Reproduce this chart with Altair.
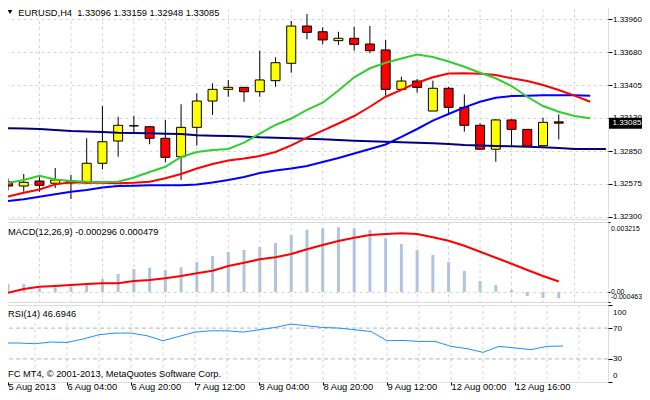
import altair as alt
import pandas as pd

FONT = "Liberation Sans"
FS = 9.3       # text size of the chart's own labels
FS_AX = 8.0    # right-hand price / RSI scale labels
FS_MACD = 6.9  # right-hand MACD scale labels (longer numbers)

# ---------------- data ----------------
opens = [1.32591, 1.32557, 1.32599, 1.32580, 1.32583, 1.32585, 1.32748, 1.32935, 1.33063, 1.33055,
         1.32958, 1.32803, 1.33050, 1.33271, 1.33369, 1.33386, 1.33349, 1.33442, 1.33588, 1.33901,
         1.33853, 1.33778, 1.33798, 1.33750, 1.33700, 1.33369, 1.33439, 1.33187, 1.33378, 1.33218,
         1.33067, 1.32866, 1.33112, 1.33033, 1.32896, 1.33096]
highs = [1.32620, 1.32658, 1.32635, 1.32708, 1.32650, 1.32958, 1.33229, 1.33139, 1.33148, 1.33061,
         1.33112, 1.33244, 1.33336, 1.33420, 1.33448, 1.33389, 1.33694, 1.33638, 1.33943, 1.34002,
         1.33890, 1.33853, 1.33895, 1.33901, 1.33784, 1.33475, 1.33456, 1.33442, 1.33391, 1.33327,
         1.33084, 1.33120, 1.33118, 1.33036, 1.33131, 1.33159]
lows = [1.32520, 1.32509, 1.32509, 1.32540, 1.32448, 1.32575, 1.32697, 1.32803, 1.32995, 1.32908,
        1.32756, 1.32608, 1.32896, 1.33154, 1.33307, 1.33265, 1.33307, 1.33391, 1.33509, 1.33789,
        1.33747, 1.33742, 1.33694, 1.33672, 1.33316, 1.33369, 1.33341, 1.33187, 1.33154, 1.33013,
        1.32866, 1.32761, 1.32896, 1.32893, 1.32896, 1.32948]
closes = [1.32557, 1.32588, 1.32563, 1.32608, 1.32600, 1.32748, 1.32929, 1.33067, 1.33062, 1.32958,
          1.32798, 1.33050, 1.33271, 1.33369, 1.33386, 1.33349, 1.33448, 1.33593, 1.33901, 1.33848,
          1.33784, 1.33798, 1.33747, 1.33694, 1.33369, 1.33439, 1.33386, 1.33378, 1.33218, 1.33067,
          1.32866, 1.33112, 1.33033, 1.32893, 1.33092, 1.33085]

ma_green = [1.32582, 1.32608, 1.32644, 1.32612, 1.32599, 1.32593, 1.32591, 1.32593, 1.32629, 1.32675,
            1.32719, 1.32801, 1.32843, 1.32860, 1.32868, 1.32921, 1.32998, 1.33070, 1.33124, 1.33196,
            1.33257, 1.33359, 1.33470, 1.33546, 1.33593, 1.33628, 1.33662, 1.33641, 1.33603, 1.33559,
            1.33509, 1.33462, 1.33397, 1.33307, 1.33229, 1.33181, 1.33145, 1.33126]
ma_red = [1.32469, 1.32501, 1.32528, 1.32571, 1.32588, 1.32585, 1.32585, 1.32580, 1.32585, 1.32593,
          1.32622, 1.32658, 1.32704, 1.32742, 1.32771, 1.32788, 1.32809, 1.32843, 1.32899, 1.32963,
          1.33022, 1.33082, 1.33145, 1.33223, 1.33307, 1.33364, 1.33425, 1.33470, 1.33502, 1.33504,
          1.33501, 1.33490, 1.33462, 1.33439, 1.33406, 1.33364, 1.33316, 1.33265]
ma_blue = [1.32431, 1.32446, 1.32467, 1.32488, 1.32509, 1.32524, 1.32545, 1.32557, 1.32560, 1.32563,
           1.32563, 1.32563, 1.32570, 1.32587, 1.32608, 1.32633, 1.32666, 1.32687, 1.32704, 1.32725,
           1.32759, 1.32792, 1.32830, 1.32868, 1.32906, 1.32969, 1.33036, 1.33107, 1.33162, 1.33218,
           1.33265, 1.33299, 1.33313, 1.33316, 1.33319, 1.33319, 1.33319, 1.33316]
ma_navy = [1.33042, 1.33040, 1.33036, 1.33028, 1.33019, 1.33015, 1.33011, 1.33005, 1.33002, 1.33000,
           1.32997, 1.32994, 1.32983, 1.32980, 1.32977, 1.32973, 1.32966, 1.32962, 1.32958, 1.32954,
           1.32950, 1.32944, 1.32938, 1.32933, 1.32929, 1.32924, 1.32921, 1.32916, 1.32910, 1.32902,
           1.32897, 1.32893, 1.32891, 1.32887, 1.32882, 1.32876, 1.32868, 1.32868, 1.32868]

macd_hist = [0.000363, 0.000363, 0.000166, 0.000212, 0.000239, 0.000317, 0.000593, 0.000823, 0.001053,
             0.001113, 0.001007, 0.001132, 0.001375, 0.001651, 0.001835, 0.001927, 0.002065, 0.002249,
             0.002617, 0.002861, 0.002926, 0.002972, 0.002926, 0.002847, 0.002466, 0.002203, 0.001927,
             0.001697, 0.001375, 0.000961, 0.000501, 0.000317, 0.000087, -0.000184, -0.000276, -0.000296]
macd_signal = [-0.000037, 0.000133, 0.000239, 0.000271, 0.000317, 0.000363, 0.000396, 0.000396, 0.000501,
               0.000547, 0.000626, 0.000731, 0.000856, 0.000975, 0.001191, 0.001343, 0.001500, 0.001592,
               0.001743, 0.001960, 0.002157, 0.002341, 0.002493, 0.002617, 0.002663, 0.002696, 0.002663,
               0.002512, 0.002355, 0.002125, 0.001849, 0.001573, 0.001297, 0.001007, 0.000731, 0.000479]

rsi_vals = [50.6, 50.6, 49.7, 51.9, 51.4, 55.8, 61.4, 63.5, 63.5, 60.1, 53.6, 59.2, 64.8, 66.5, 66.5,
            64.8, 67.8, 70.8, 75.2, 73.0, 70.8, 70.0, 67.8, 65.6, 53.6, 54.0, 52.7, 52.7, 46.3, 43.3,
            38.5, 46.3, 44.2, 42.0, 46.3, 46.7]

price_ticks = [1.32300, 1.32575, 1.32850, 1.33130, 1.33405, 1.33680, 1.33960]
macd_ticks = [0.003215, 0.0, -0.000463]
macd_tick_labels = ["0.003215", "0.00", "-0.000463"]
rsi_ticks = [0, 30, 70, 100]
rsi_levels = [30, 70]

time_label_bars = [0, 4, 8, 12, 16, 20, 24, 28, 32]
time_labels = ["5 Aug 2013", "6 Aug 04:00", "6 Aug 20:00", "7 Aug 12:00", "8 Aug 04:00",
               "8 Aug 20:00", "9 Aug 12:00", "12 Aug 00:00", "12 Aug 16:00"]
grid_bars = list(range(2, 37, 2))

title_txt = "EURUSD,H4\u00a0 1.33096 1.33159 1.32948 1.33085"
macd_txt = "MACD(12,26,9) -0.000296 0.000479"
rsi_txt = "RSI(14) 46.6946"
footer_txt = "FC MT4, \u00a9 2001-2013, MetaQuotes Software Corp."

# ---------------- frames ----------------
n = len(opens)
cdf = pd.DataFrame({"i": range(n), "o": opens, "h": highs, "l": lows, "c": closes})
cdf["dir"] = ["up" if c >= o else "down" for o, c in zip(opens, closes)]

def ma_df(vals):
    return pd.DataFrame({"i": range(len(vals)), "v": vals})

gdf = pd.DataFrame({"i": grid_bars})
mdf = pd.DataFrame({"i": range(n), "h": macd_hist, "s": macd_signal})
rdf = pd.DataFrame({"i": range(n), "r": rsi_vals})
lvl = pd.DataFrame({"r": rsi_levels})
cur = pd.DataFrame({"v": [closes[-1]], "lab": [f"{closes[-1]:.5f}"]})

W = 605
BAR_PX = 16.0
X_MIN, X_MAX = 0.0, W / BAR_PX
X_VISIBLE = 5 / BAR_PX   # first bar position not hidden by the page margin
xs = alt.Scale(domain=[X_MIN, X_MAX], nice=False, zero=False)

def X(axis=None):
    return alt.X("i:Q", scale=xs, axis=axis)

common_axis = dict(orient="right", tickColor="black", domain=False,
                   labelFont=FONT, labelColor="black",
                   labelOverlap=False, title=None, labelPadding=0.5)

# ---------------- main panel ----------------
ys_main = alt.Scale(domain=[1.32280, 1.340944], nice=False, zero=False)
price_axis = alt.Axis(values=price_ticks, format=".5f", grid=True, gridColor="#d6d6d6",
                      gridDash=[3, 3], labelFlush=False, tickSize=4, labelFontSize=FS_AX,
                      **common_axis)

def YM(f):
    return alt.Y(f"{f}:Q", scale=ys_main, axis=price_axis)

vgrid = alt.Chart(gdf).mark_rule(color="#d6d6d6", strokeDash=[3, 3], strokeWidth=1).encode(x=X())
wicks = alt.Chart(cdf).mark_rule(color="black", strokeWidth=1, clip=True).encode(
    x=X(), y=YM("l"), y2="h:Q")
bodies = alt.Chart(cdf).mark_bar(size=9, stroke="black", strokeWidth=1, clip=True).encode(
    x=X(), y=YM("o"), y2="c:Q",
    color=alt.Color("dir:N", scale=alt.Scale(domain=["up", "down"], range=["#FFFF00", "#FF0000"]),
                    legend=None))

def ma_line(vals, col):
    return alt.Chart(ma_df(vals)).mark_line(color=col, strokeWidth=2, clip=True).encode(
        x=X(), y=YM("v"))

box = alt.Chart(cur).mark_rect(color="black", yOffset=-5.5, y2Offset=5.5).encode(
    x=alt.value(W + 1), x2=alt.value(W + 45), y=YM("v"), y2="v:Q")
box_txt = alt.Chart(cur).mark_text(color="white", align="left", baseline="middle",
                                   font=FONT, fontSize=FS_AX).encode(
    x=alt.value(W + 4.5), y=YM("v"), text="lab:N")
tri = alt.Chart(cur).mark_point(shape="triangle-down", filled=True, color="black", size=22,
                                opacity=1, clip=True).encode(x=alt.value(7), y=alt.value(9))
ttl = alt.Chart(cur).mark_text(text=title_txt, align="left", baseline="alphabetic", font=FONT,
                               fontSize=FS, color="black", clip=True).encode(
    x=alt.value(15.3), y=alt.value(13.4))

main = alt.layer(vgrid, wicks, bodies,
                 ma_line(ma_navy, "#000080"), ma_line(ma_blue, "#0000FF"),
                 ma_line(ma_red, "#FF0000"), ma_line(ma_green, "#32CD32"),
                 box, box_txt, tri, ttl).properties(width=W, height=216)

# ---------------- MACD panel ----------------
ys_macd = alt.Scale(domain=[-0.000463, 0.003215], nice=False, zero=False)
macd_expr = ""
for v, s in zip(macd_ticks, macd_tick_labels):
    macd_expr += f"abs(datum.value - ({v})) < 1e-7 ? '{s}' : "
macd_expr += "''"
macd_axis = alt.Axis(values=macd_ticks, labelExpr=macd_expr, grid=True, gridColor="#d6d6d6",
                     gridDash=[3, 3], labelFlush=True, labelFlushOffset=-3, tickSize=2,
                     labelFontSize=FS_MACD, **common_axis)

def YD(f):
    return alt.Y(f"{f}:Q", scale=ys_macd, axis=macd_axis)

vgrid2 = alt.Chart(gdf).mark_rule(color="#d6d6d6", strokeDash=[3, 3], strokeWidth=1).encode(x=X())
hist = alt.Chart(mdf).mark_bar(size=3, color="#B0C4DE", clip=True).encode(
    x=X(), y=YD("h"), y2=alt.datum(0))
sig = alt.Chart(mdf).mark_line(color="#FF0000", strokeWidth=2, clip=True).encode(x=X(), y=YD("s"))
macd_t = alt.Chart(cur).mark_text(text=macd_txt, align="left", baseline="alphabetic", font=FONT,
                                  fontSize=FS, color="black").encode(
    x=alt.value(5), y=alt.value(13))
macd = alt.layer(vgrid2, hist, sig, macd_t).properties(width=W, height=80)

# ---------------- RSI panel ----------------
ys_rsi = alt.Scale(domain=[0, 100], nice=False, zero=False)
rsi_axis = alt.Axis(values=rsi_ticks, grid=False, labelFlush=True, labelFlushOffset=-3,
                    tickSize=4, labelFontSize=FS_AX, **common_axis)
x_vals = [max(b, X_VISIBLE) for b in time_label_bars]
x_expr = ""
for v, s in zip(x_vals, time_labels):
    x_expr += f"abs(datum.value - {v}) < 0.01 ? '{s}' : "
x_expr += "''"
time_axis = alt.Axis(values=x_vals, labelExpr=x_expr, labelAlign="left", labelBaseline="alphabetic",
                     labelFlush=False, tickSize=3, tickColor="black", domain=False, grid=False,
                     labelPadding=4.6, labelFont=FONT, labelFontSize=FS, labelColor="black",
                     labelOverlap=False, title=None)

def YR(f):
    return alt.Y(f"{f}:Q", scale=ys_rsi, axis=rsi_axis)

vgrid3 = alt.Chart(gdf).mark_rule(color="#d6d6d6", strokeDash=[3, 3], strokeWidth=1).encode(
    x=X(time_axis))
levels = alt.Chart(lvl).mark_rule(color="#b4b4b4", strokeDash=[4, 3], strokeWidth=1).encode(y=YR("r"))
rsi_line = alt.Chart(rdf).mark_line(color="#1E90FF", strokeWidth=1, clip=True).encode(
    x=X(time_axis), y=YR("r"))
rsi_t = alt.Chart(cur).mark_text(text=rsi_txt, align="left", baseline="alphabetic", font=FONT,
                                 fontSize=FS, color="black").encode(x=alt.value(5), y=alt.value(12))
foot_t = alt.Chart(cur).mark_text(text=footer_txt, align="left", baseline="alphabetic", font=FONT,
                                  fontSize=FS, color="black").encode(x=alt.value(5), y=alt.value(72.3))
rsi = alt.layer(vgrid3, levels, rsi_line, rsi_t, foot_t).properties(width=W, height=77)

# page: 650x400 window with 8px body margin -> drawing surface 634x384
chart = alt.vconcat(main, macd, rsi, spacing=3, bounds="flush").properties(
    autosize=alt.AutoSizeParams(type="none"),
    padding={"left": -5, "top": -5, "right": 634 - W + 5, "bottom": 389},
).configure_view(stroke="black", strokeWidth=1).configure(background="white")

chart.save("out.html", embed_options={"renderer": "svg", "actions": False})
